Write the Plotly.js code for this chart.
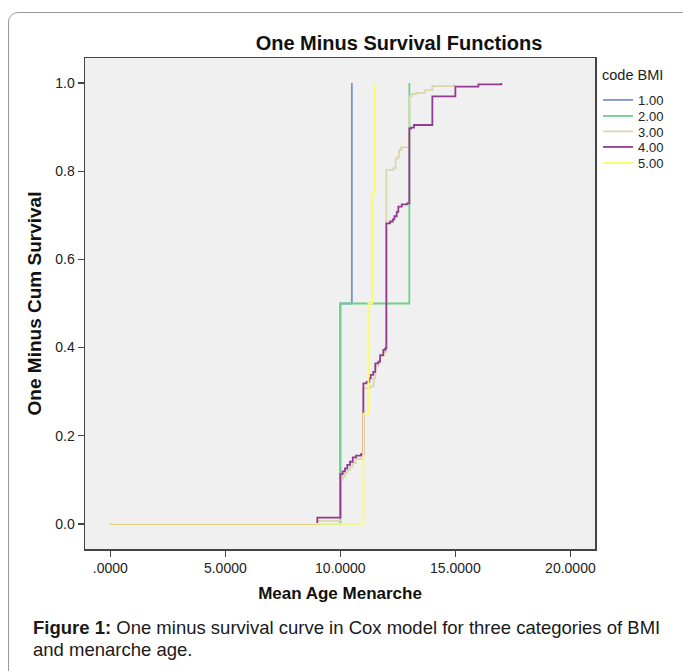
<!DOCTYPE html>
<html>
<head>
<meta charset="utf-8">
<script src="https://cdn.plot.ly/plotly-3.0.1.min.js"></script>
<style>
  html, body { margin: 0; padding: 0; background: #ffffff; }
  #wrap { position: relative; width: 683px; height: 671px; overflow: hidden; }
  #frame { position: absolute; left: 8px; top: 12px; width: 720px; height: 720px;
           border: 1px solid #9a9a9a; border-radius: 10px; box-sizing: border-box; }
  #chart { position: absolute; left: 0; top: 0; width: 683px; height: 671px; }
</style>
</head>
<body>
<div id="wrap">
  <div id="frame"></div>
  <div id="chart"></div>
</div>
<script>
// ---- Data ----
const seriesNames = ["1.00", "2.00", "3.00", "4.00", "5.00"];

const bmi1_x = [0, 10.0, 10.5];
const bmi1_y = [0, 0.5, 1.0];

const bmi2_x = [0, 10.0, 13.0];
const bmi2_y = [0, 0.5, 1.0];

const bmi3_x = [0, 9.0, 10.0, 10.1, 10.2, 10.3, 10.42, 10.54, 10.68, 11.0, 11.3, 11.45, 11.52, 11.65, 11.73, 11.87,
                12.0, 12.3, 12.4, 12.5, 12.55, 12.64, 13.0, 13.1, 13.29, 13.68, 14.0, 14.95];
const bmi3_y = [0, 0.007, 0.100, 0.107, 0.115, 0.122, 0.130, 0.138, 0.147, 0.308, 0.312, 0.330, 0.358, 0.366, 0.380, 0.390,
                0.803, 0.807, 0.829, 0.833, 0.848, 0.854, 0.970, 0.975, 0.978, 0.984, 0.993, 0.998];

const bmi4_x = [0, 9.0, 10.0, 10.1, 10.2, 10.3, 10.42, 10.54, 10.68, 10.9, 11.0, 11.14, 11.26, 11.32, 11.43, 11.52, 11.65,
                11.73, 11.87, 11.95, 12.0, 12.16, 12.28, 12.35, 12.45, 12.52, 12.67, 12.9, 13.0, 13.07, 13.2, 14.0, 15.0, 16.0, 17.0];
const bmi4_y = [0, 0.014, 0.113, 0.119, 0.126, 0.134, 0.141, 0.151, 0.155, 0.158, 0.319, 0.322, 0.330, 0.338, 0.345, 0.364, 0.368,
                0.383, 0.395, 0.398, 0.682, 0.686, 0.691, 0.698, 0.708, 0.720, 0.725, 0.727, 0.897, 0.899, 0.905, 0.970, 0.992, 0.997, 1.0];

const bmi5_x = [0, 11.0, 11.22, 11.39, 11.49];
const bmi5_y = [0, 0.25, 0.5, 0.75, 1.0];

const xTickVals = [0, 5, 10, 15, 20];
const xTickText = [".0000", "5.0000", "10.0000", "15.0000", "20.0000"];
const yTickVals = [0, 0.2, 0.4, 0.6, 0.8, 1.0];
const yTickText = ["0.0", "0.2", "0.4", "0.6", "0.8", "1.0"];

// ---- Styles ----
const colors = ["#7894d2", "#6fcf88", "#dad6ae", "#933a91", "#fbfa70"];
const xs = [bmi1_x, bmi2_x, bmi3_x, bmi4_x, bmi5_x];
const ys = [bmi1_y, bmi2_y, bmi3_y, bmi4_y, bmi5_y];
const legendIds = ["legend", "legend2", "legend3", "legend4", "legend5"];
const legendRowPx = [100, 116, 131.5, 147, 163];   // vertical pixel centre of each legend row

const traces = seriesNames.map((n, i) => ({
  type: "scatter",
  mode: "lines",
  name: n,
  legend: legendIds[i],
  x: xs[i],
  y: ys[i],
  line: { shape: "hv", color: colors[i], width: 1.8 },
  hoverinfo: "x+y+name"
}));

const FONT = "Liberation Sans, Arial, sans-serif";
const PLOT_TOP = 58, PLOT_BOTTOM = 549, PLOT_H = PLOT_BOTTOM - PLOT_TOP;
const toPaperY = px => (PLOT_BOTTOM - px) / PLOT_H;

const baseLegend = {
  font: { family: FONT, size: 13, color: "#222222" },
  x: 1.006, xanchor: "left",
  yanchor: "middle",
  bgcolor: "rgba(0,0,0,0)",
  borderwidth: 0,
  itemwidth: 30
};

const layout = {
  width: 683,
  height: 671,
  margin: { l: 85, r: 88, t: PLOT_TOP, b: 671 - PLOT_BOTTOM },
  paper_bgcolor: "rgba(0,0,0,0)",
  plot_bgcolor: "#f0f0f0",
  font: { family: FONT, color: "#222222" },
  title: {
    text: "<b>One Minus Survival Functions</b>",
    font: { family: FONT, size: 20, color: "#111111" },
    xref: "container", x: 399 / 683, xanchor: "center",
    yref: "container", y: 1 - 43 / 671, yanchor: "middle"
  },
  xaxis: {
    range: [-1.1, 21.07],
    tickvals: xTickVals,
    ticktext: xTickText,
    ticks: "outside", ticklen: 6, tickwidth: 1.5, tickcolor: "#444444",
    showline: true, linecolor: "#444444", linewidth: 1.5, mirror: true,
    showgrid: false, zeroline: false,
    tickfont: { family: FONT, size: 14, color: "#222222" },
    title: { text: "<b>Mean Age Menarche</b>", font: { family: FONT, size: 17, color: "#111111" }, standoff: 12 }
  },
  yaxis: {
    range: [-0.057, 1.057],
    tickvals: yTickVals,
    ticktext: yTickText,
    ticks: "outside", ticklen: 6, tickwidth: 1.5, tickcolor: "#444444",
    showline: true, linecolor: "#444444", linewidth: 1.5, mirror: true,
    showgrid: false, zeroline: false,
    tickfont: { family: FONT, size: 14, color: "#222222" },
    title: { text: "<b>One Minus Cum Survival</b>", font: { family: FONT, size: 19, color: "#111111" }, standoff: 8 }
  },
  showlegend: true,
  annotations: [
    {
      xref: "paper", yref: "paper",
      x: (600 - 85) / 510, xanchor: "left",
      y: toPaperY(75), yanchor: "middle",
      showarrow: false, align: "left",
      text: "code BMI",
      font: { family: FONT, size: 14.5, color: "#222222" }
    },
    {
      xref: "paper", yref: "paper",
      x: (31 - 85) / 510, xanchor: "left",
      y: toPaperY(627), yanchor: "middle",
      showarrow: false, align: "left",
      text: "<b>Figure 1:</b> One minus survival curve in Cox model for three categories of BMI",
      font: { family: FONT, size: 18.5, color: "#1a1a1a" }
    },
    {
      xref: "paper", yref: "paper",
      x: (31 - 85) / 510, xanchor: "left",
      y: toPaperY(649), yanchor: "middle",
      showarrow: false, align: "left",
      text: "and menarche age.",
      font: { family: FONT, size: 18.5, color: "#1a1a1a" }
    }
  ]
};

legendIds.forEach((id, i) => {
  layout[id] = Object.assign({}, baseLegend, { y: toPaperY(legendRowPx[i]) });
});

Plotly.newPlot("chart", traces, layout, { displayModeBar: false, staticPlot: true });
</script>
</body>
</html>
